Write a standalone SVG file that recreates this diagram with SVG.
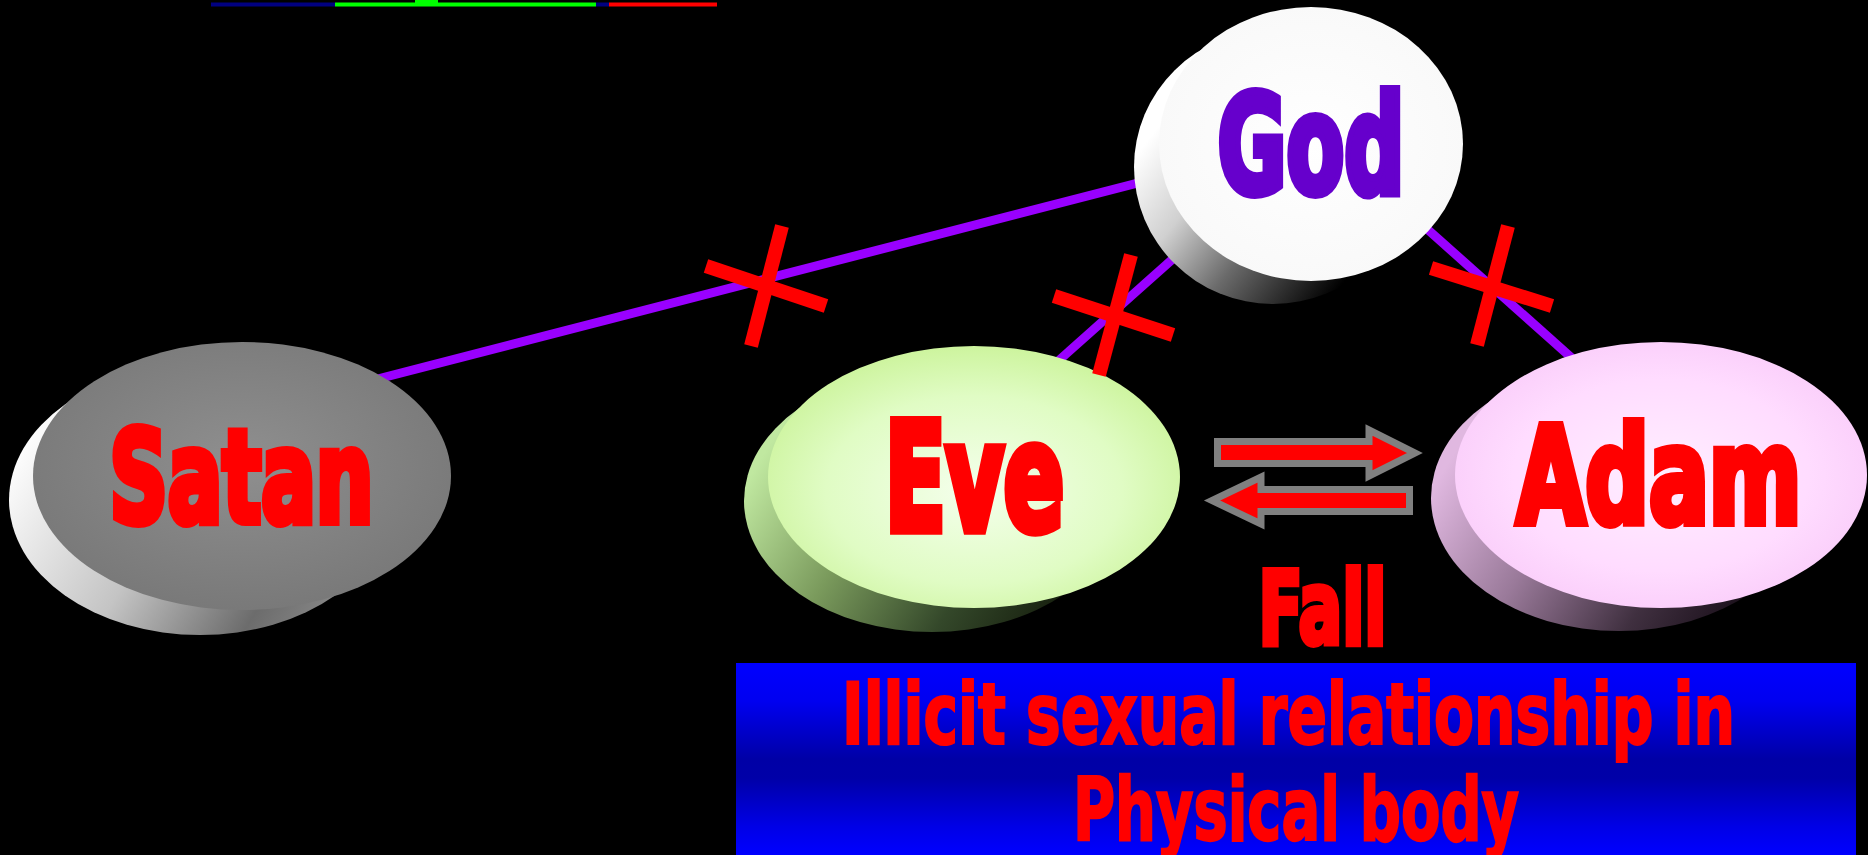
<svg xmlns="http://www.w3.org/2000/svg" width="1868" height="855" viewBox="0 0 1868 855">
<style>
.lbl{font-family:"DejaVu Sans Condensed","DejaVu Sans","Liberation Sans",sans-serif;font-stretch:condensed;font-weight:bold;fill:#ff0000;stroke:#ff0000;stroke-linejoin:miter;vector-effect:non-scaling-stroke}
.god{fill:#6600cc;stroke:#6600cc}
.link{stroke:#9900ff;stroke-width:9;fill:none}
.cross{stroke:#ff0000;stroke-width:14;stroke-linecap:butt;fill:none}
.arrow{fill:#ff0000;stroke:#808080;stroke-width:7;stroke-linejoin:miter}
</style>
<defs>
<radialGradient id="gSatanTop" cx="0.5" cy="0.45" r="0.6">
<stop offset="0" stop-color="#8f8f8f"/><stop offset="1" stop-color="#777777"/>
</radialGradient>
<linearGradient id="gSatanSide" gradientUnits="userSpaceOnUse" x1="20" y1="440" x2="330" y2="630">
<stop offset="0" stop-color="#ffffff"/><stop offset="0.45" stop-color="#c4c4c4"/><stop offset="0.8" stop-color="#6c6c6c"/><stop offset="1" stop-color="#8a8a8a"/>
</linearGradient>
<radialGradient id="gEveTop" cx="0.5" cy="0.55" r="0.6">
<stop offset="0" stop-color="#f4ffec"/><stop offset="0.6" stop-color="#e0fcc4"/><stop offset="1" stop-color="#c8f294"/>
</radialGradient>
<linearGradient id="gEveSide" gradientUnits="userSpaceOnUse" x1="760" y1="460" x2="1050" y2="640">
<stop offset="0" stop-color="#c0e8a0"/><stop offset="0.35" stop-color="#7a9a5c"/><stop offset="0.7" stop-color="#34482a"/><stop offset="1" stop-color="#141c0c"/>
</linearGradient>
<radialGradient id="gAdamTop" cx="0.5" cy="0.5" r="0.6">
<stop offset="0" stop-color="#ffeeff"/><stop offset="0.6" stop-color="#ffdcff"/><stop offset="1" stop-color="#f8c8f8"/>
</radialGradient>
<linearGradient id="gAdamSide" gradientUnits="userSpaceOnUse" x1="1450" y1="460" x2="1740" y2="640">
<stop offset="0" stop-color="#e0b8e0"/><stop offset="0.35" stop-color="#9a7a9a"/><stop offset="0.7" stop-color="#403040"/><stop offset="1" stop-color="#140a14"/>
</linearGradient>
<radialGradient id="gGodTop" cx="0.5" cy="0.5" r="0.6">
<stop offset="0" stop-color="#ffffff"/><stop offset="1" stop-color="#f8f8f8"/>
</radialGradient>
<linearGradient id="gGodSide" gradientUnits="userSpaceOnUse" x1="1140" y1="150" x2="1330" y2="300">
<stop offset="0" stop-color="#ffffff"/><stop offset="0.3" stop-color="#d0d0d0"/><stop offset="0.6" stop-color="#6a6a6a"/><stop offset="1" stop-color="#000000"/>
</linearGradient>
<linearGradient id="gBox" x1="0" y1="0" x2="0" y2="1">
<stop offset="0" stop-color="#0000ff"/><stop offset="0.2" stop-color="#0000f0"/><stop offset="0.5" stop-color="#0000a6"/><stop offset="0.6" stop-color="#0000a8"/><stop offset="0.85" stop-color="#0000e6"/><stop offset="1" stop-color="#0000ff"/>
</linearGradient>
</defs>
<rect x="0" y="0" width="1868" height="855" fill="#000000"/>
<g id="top-bars">
<rect x="211" y="2.5" width="124" height="4" fill="#000080"/>
<rect x="335" y="2.5" width="261" height="4" fill="#00ff00"/>
<rect x="415" y="0" width="23" height="4" fill="#00ff00"/>
<rect x="596" y="2.5" width="13" height="4" fill="#000080"/>
<rect x="609" y="2.5" width="108" height="4" fill="#ff0000"/>
</g>
<g id="connectors">
<line class="link" x1="300" y1="399" x2="1200" y2="167"/>
<line class="link" x1="1020" y1="395" x2="1230" y2="208"/>
<line class="link" x1="1380" y1="187" x2="1620" y2="401"/>
</g>
<g id="node-satan">
<ellipse cx="200" cy="500" rx="191" ry="135" fill="url(#gSatanSide)"/>
<ellipse cx="242" cy="476" rx="209" ry="134" fill="url(#gSatanTop)"/>
<text class="lbl" transform="translate(109.5,521.5) scale(0.703,1)" x="0" y="0" font-size="128" stroke-width="7" textLength="375.5" lengthAdjust="spacingAndGlyphs">Satan</text>
</g>
<g id="node-god">
<ellipse cx="1273" cy="167" rx="139" ry="137" fill="url(#gGodSide)"/>
<ellipse cx="1311" cy="144" rx="152" ry="137" fill="url(#gGodTop)"/>
<text class="lbl god" transform="translate(1217.5,192.5) scale(0.682,1)" x="0" y="0" font-size="137" stroke-width="7" textLength="274.2" lengthAdjust="spacingAndGlyphs">God</text>
</g>
<g id="node-eve">
<ellipse cx="932" cy="501" rx="188" ry="131" fill="url(#gEveSide)"/>
<ellipse cx="974" cy="477" rx="206" ry="131" fill="url(#gEveTop)"/>
<text class="lbl" transform="translate(885,530) scale(0.659,1)" x="0" y="0" font-size="150" stroke-width="8" textLength="271.6" lengthAdjust="spacingAndGlyphs">Eve</text>
</g>
<g id="node-adam">
<ellipse cx="1619" cy="498" rx="188" ry="133" fill="url(#gAdamSide)"/>
<ellipse cx="1661" cy="475" rx="206" ry="133" fill="url(#gAdamTop)"/>
<text class="lbl" transform="translate(1516.5,522.5) scale(0.737,1)" x="0" y="0" font-size="134" stroke-width="7" textLength="386.7" lengthAdjust="spacingAndGlyphs">Adam</text>
</g>
<g id="cross-marks">
<line class="cross" x1="782" y1="226" x2="751" y2="346"/>
<line class="cross" x1="706" y1="266" x2="826" y2="306"/>
<line class="cross" x1="1131" y1="255" x2="1099" y2="375"/>
<line class="cross" x1="1054" y1="296" x2="1173" y2="335"/>
<line class="cross" x1="1508" y1="226" x2="1477" y2="345"/>
<line class="cross" x1="1431" y1="268" x2="1552" y2="306"/>
</g>
<g id="exchange-arrows">
<path class="arrow" d="M1217.5,441.5 L1369,441.5 L1369,430 L1415,453 L1369,476 L1369,463.5 L1217.5,463.5 Z"/>
<path class="arrow" d="M1409.5,489.5 L1261,489.5 L1261,477 L1212,500.5 L1261,524 L1261,511.5 L1409.5,511.5 Z"/>
</g>
<g id="label-fall">
<text class="lbl" transform="translate(1258.5,643.5) scale(0.70,1)" x="0" y="0" font-size="102" stroke-width="5" textLength="182.9" lengthAdjust="spacingAndGlyphs">Fall</text>
</g>
<g id="caption-box">
<rect x="736" y="663" width="1120" height="192" fill="url(#gBox)"/>
<text class="lbl" transform="translate(842,744) scale(0.78,1)" x="0" y="0" font-size="85" stroke-width="2" textLength="1144.9" lengthAdjust="spacingAndGlyphs">Illicit sexual relationship in</text>
<text class="lbl" transform="translate(1073,840) scale(0.742,1)" x="0" y="0" font-size="88" stroke-width="2" textLength="601.1" lengthAdjust="spacingAndGlyphs">Physical body</text>
</g>
</svg>
